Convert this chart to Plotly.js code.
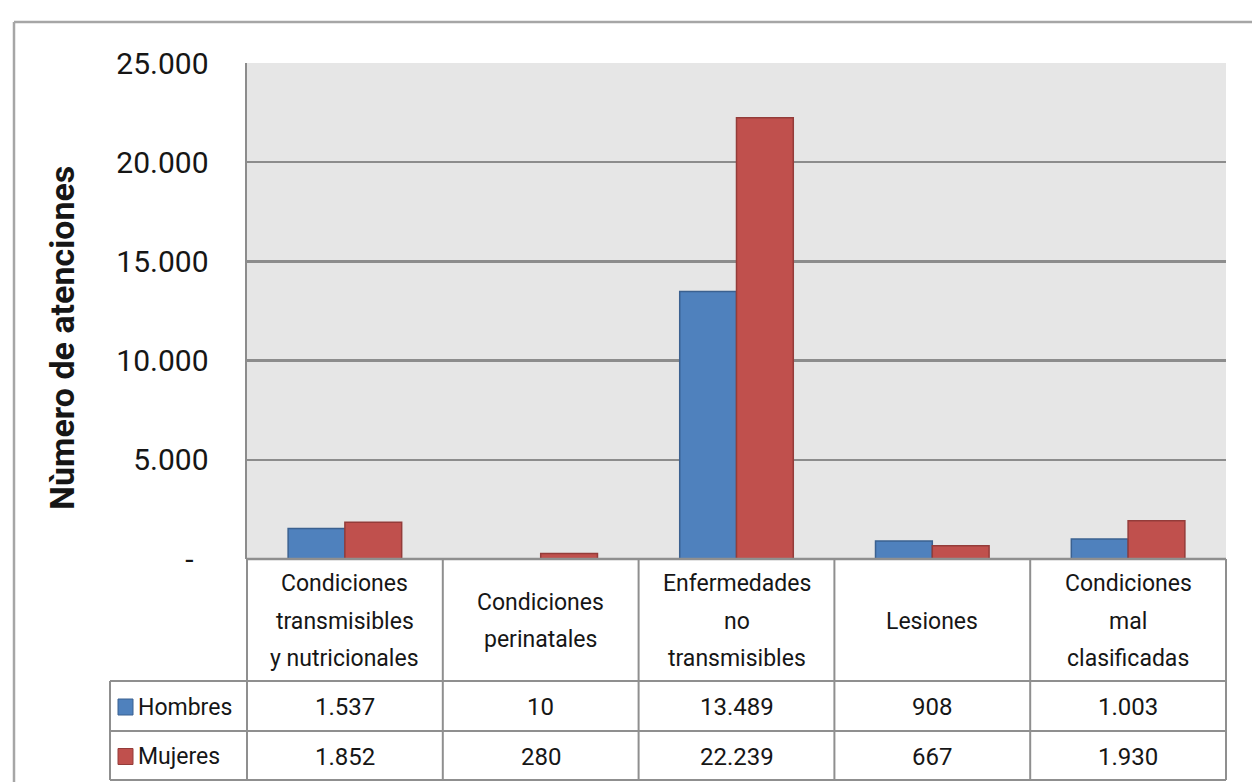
<!DOCTYPE html>
<html>
<head>
<meta charset="utf-8">
<script src="https://cdn.plot.ly/plotly-3.0.1.min.js"></script>
<style>html,body{margin:0;padding:0;background:#fff;}#chart{width:1252px;height:782px;}</style>
</head>
<body>
<div id="chart"></div>
<script>
// ---- data ----
const categories = ['Condiciones transmisibles y nutricionales', 'Condiciones perinatales', 'Enfermedades no transmisibles', 'Lesiones', 'Condiciones mal clasificadas'];
const categoryLines = [['Condiciones', 'transmisibles', 'y nutricionales'], ['Condiciones', 'perinatales'], ['Enfermedades', 'no', 'transmisibles'], ['Lesiones'], ['Condiciones', 'mal', 'clasificadas']];
const seriesNames = ['Hombres', 'Mujeres'];
const hombres = [1537, 10, 13489, 908, 1003];
const mujeres = [1852, 280, 22239, 667, 1930];
const yTickVals = [0, 5000, 10000, 15000, 20000, 25000];
const yTickText = ['-\u00a0\u00a0', '5.000', '10.000', '15.000', '20.000', '25.000'];
const yTitle = 'Nùmero de atenciones';

// ---- styles ----
const fillColors = ['#4F81BD', '#C0504D'];
const edgeColors = ['#3B6190', '#943C3A'];
const FONT = 'Roboto, "Liberation Sans", sans-serif';
const TXT = '#161616';
const LINE = '#8f8f8f';

const W = 1252, H = 782;
const M = {l: 247, r: 26, t: 63, b: 223};
const plotH = H - M.t - M.b;   // 496
const plotW = W - M.l - M.r;   // 979
const py = p => (H - M.b - p) / plotH;   // pixel y -> paper y
const px = p => (p - M.l) / plotW;       // pixel x -> paper x

function fmt(v) {
  return String(v).replace(/\B(?=(\d{3})+(?!\d))/g, '.');
}

const seriesValues = [hombres, mujeres];
const traces = seriesNames.map((name, s) => ({
  type: 'bar',
  name: name,
  x: categories,
  y: seriesValues[s],
  marker: {color: fillColors[s], line: {color: edgeColors[s], width: 1.5}},
  hoverinfo: 'x+y+name'
}));

const shapes = [];
const annotations = [];
const n = categories.length;

// outer chart border (top and left visible)
shapes.push({type: 'line', xref: 'paper', yref: 'paper', x0: px(14), x1: px(1260), y0: py(22), y1: py(22), line: {color: '#a6a6a6', width: 2.5}});
shapes.push({type: 'line', xref: 'paper', yref: 'paper', x0: px(14), x1: px(14), y0: py(22), y1: py(790), line: {color: '#a6a6a6', width: 2.5}});

// data table
const rowY = [559, 681, 731, 780];
const legendLeft = 110;
shapes.push({type: 'line', xref: 'paper', yref: 'paper', x0: 0, x1: 1, y0: py(rowY[0]), y1: py(rowY[0]), line: {color: LINE, width: 2.5}});
for (let r = 1; r < rowY.length; r++) {
  shapes.push({type: 'line', xref: 'paper', yref: 'paper', x0: px(legendLeft), x1: 1, y0: py(rowY[r]), y1: py(rowY[r]), line: {color: LINE, width: 2}});
}
for (let k = 0; k <= n; k++) {
  shapes.push({type: 'line', xref: 'paper', yref: 'paper', x0: k / n, x1: k / n, y0: py(rowY[0]), y1: py(rowY[3]), line: {color: LINE, width: 2}});
}
shapes.push({type: 'line', xref: 'paper', yref: 'paper', x0: px(legendLeft), x1: px(legendLeft), y0: py(rowY[1]), y1: py(rowY[3]), line: {color: LINE, width: 2}});

// category header texts
const lineGap = 37.5;
const headCenter = (rowY[0] + rowY[1]) / 2 + 1;
categoryLines.forEach((lines, i) => {
  lines.forEach((t, j) => {
    const yc = headCenter + (j - (lines.length - 1) / 2) * lineGap;
    annotations.push({xref: 'x', yref: 'paper', x: categories[i], y: py(yc), text: t, showarrow: false,
      xanchor: 'center', yanchor: 'middle', font: {family: FONT, size: 23, color: TXT}});
  });
});

// value rows + legend keys
seriesNames.forEach((name, s) => {
  const yc = (rowY[s + 1] + rowY[s + 2]) / 2 + 1;
  seriesValues[s].forEach((v, i) => {
    annotations.push({xref: 'x', yref: 'paper', x: categories[i], y: py(yc), text: fmt(v), showarrow: false,
      xanchor: 'center', yanchor: 'middle', font: {family: FONT, size: 24, color: TXT}});
  });
  shapes.push({type: 'rect', xref: 'paper', yref: 'paper', x0: px(118), x1: px(133), y0: py(yc - 8), y1: py(yc + 8),
    fillcolor: fillColors[s], line: {color: edgeColors[s], width: 1}});
  annotations.push({xref: 'paper', yref: 'paper', x: px(136), y: py(yc), text: name, showarrow: false,
    xanchor: 'left', yanchor: 'middle', font: {family: FONT, size: 23, color: TXT}});
});

// y axis title
annotations.push({xref: 'paper', yref: 'paper', x: px(62), y: py(338), text: '<b>' + yTitle + '</b>', textangle: -90,
  showarrow: false, xanchor: 'center', yanchor: 'middle', font: {family: FONT, size: 34, color: TXT}});

const layout = {
  width: W, height: H,
  margin: M,
  paper_bgcolor: '#ffffff',
  plot_bgcolor: '#e6e6e6',
  barmode: 'group',
  bargap: 0.42,
  bargroupgap: 0,
  showlegend: false,
  xaxis: {type: 'category', showticklabels: false, ticks: '', showgrid: false, zeroline: false, showline: false,
    range: [-0.5, n - 0.5], fixedrange: true},
  yaxis: {range: [0, 25000], tickvals: yTickVals, ticktext: yTickText, ticks: '', ticklabelstandoff: 30,
    showgrid: true, gridcolor: '#8c8c8c', gridwidth: 2.5, zeroline: false,
    showline: true, linecolor: '#8c8c8c', linewidth: 2.5,
    tickfont: {family: FONT, size: 30, color: TXT}, fixedrange: true},
  shapes: shapes,
  annotations: annotations
};

Plotly.newPlot('chart', traces, layout, {displayModeBar: false, staticPlot: true});
</script>
</body>
</html>
